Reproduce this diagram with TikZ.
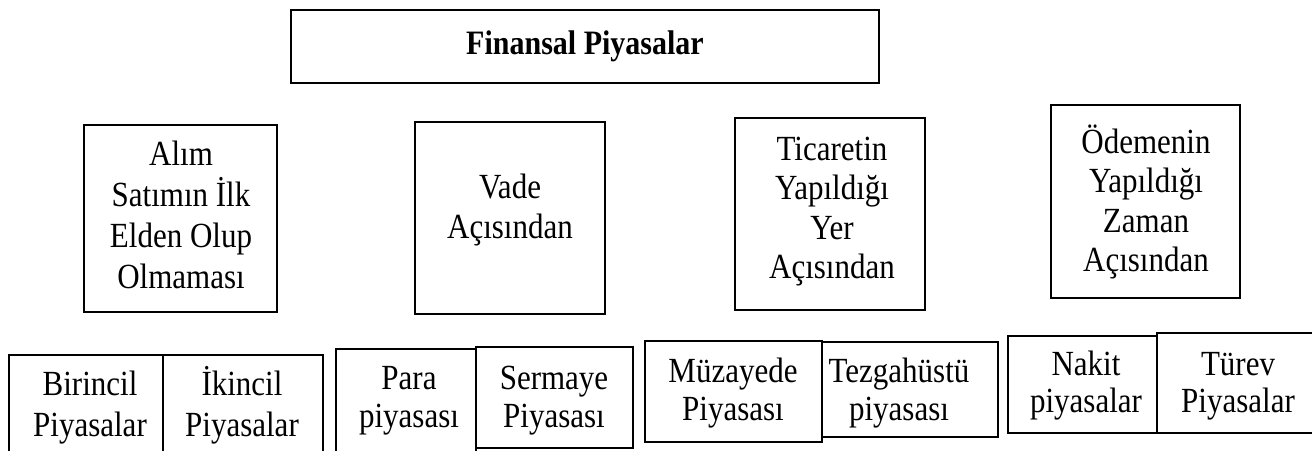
\documentclass[tikz,border=0pt]{standalone}
\usepackage{fontspec}
\setmainfont{Liberation Serif}
\newcommand{\fl}{\rule{0pt}{28pt}}
\tikzset{
  box/.style={draw=black, line width=2pt, inner sep=0pt, outer sep=0pt, anchor=north west},
  txt/.style={font=\fontsize{31}{#1}\selectfont, align=center, inner sep=0pt, anchor=north, yscale=1.14, transform shape},
  txt/.default=35
}
\begin{document}
\begin{tikzpicture}[x=1pt,y=1pt]
\clip (0,0) rectangle (1312,-450);
\fill[white] (0,0) rectangle (1312,-450);
% anchor points of the texts (first baseline minus 32pt)
\coordinate (topP) at (585,-54);
\coordinate (alimP) at (181,-133);
\coordinate (vadeP) at (510,-166);
\coordinate (ticaretP) at (832,-128);
\coordinate (odemeP) at (1146,-121);
\coordinate (birincilP) at (90,-363);
\coordinate (ikincilP) at (242,-363);
\coordinate (paraP) at (409,-357);
\coordinate (sermayeP) at (554,-357);
\coordinate (muzayedeP) at (733,-350);
\coordinate (tezgahP) at (899,-350);
\coordinate (nakitP) at (1086,-343);
\coordinate (turevP) at (1238,-343);
% title
\node[box, minimum width=588pt, minimum height=73pt] (top) at (291,-10) {};
\node[font=\bfseries\fontsize{30}{36}\selectfont, inner sep=0pt, anchor=base, yscale=1.14, transform shape] (topT) at (topP) {Finansal Piyasalar};
% middle row
\node[box, minimum width=193pt, minimum height=187pt] (alim) at (84,-125) {};
\node[txt=36] (alimT) at (alimP) {\fl Alım\\Satımın İlk\\Elden Olup\\Olmaması};
\node[box, minimum width=190pt, minimum height=192pt] (vade) at (415,-122) {};
\node[txt=35.1] (vadeT) at (vadeP) {\fl Vade\\Açısından};
\node[box, minimum width=190pt, minimum height=192pt] (ticaret) at (735,-118) {};
\node[txt=34.6] (ticaretT) at (ticaretP) {\fl Ticaretin\\Yapıldığı\\Yer\\Açısından};
\node[box, minimum width=189pt, minimum height=193pt] (odeme) at (1051,-105) {};
\node[txt=34.6] (odemeT) at (odemeP) {\fl Ödemenin\\Yapıldığı\\Zaman\\Açısından};
% bottom row
\node[box, minimum width=154pt, minimum height=115pt] (birincil) at (9,-355) {};
\node[box, minimum width=160pt, minimum height=115pt] (ikincil) at (163,-355) {};
\node[txt=36] (birincilT) at (birincilP) {\fl Birincil\\Piyasalar};
\node[txt=36] (ikincilT) at (ikincilP) {\fl İkincil\\Piyasalar};
\node[box, minimum width=140pt, minimum height=121pt] (para) at (336,-349) {};
\node[box, minimum width=157pt, minimum height=101pt] (sermaye) at (476,-347) {};
\node[txt=33.8] (paraT) at (paraP) {\fl Para\\piyasası};
\node[txt=33.8] (sermayeT) at (sermayeP) {\fl Sermaye\\Piyasası};
\node[box, minimum width=177pt, minimum height=101pt] (muzayede) at (645,-341) {};
\node[box, minimum width=176pt, minimum height=95pt] (tezgah) at (822,-342) {};
\node[txt=33.3] (muzayedeT) at (muzayedeP) {\fl Müzayede\\Piyasası};
\node[txt=33.3] (tezgahT) at (tezgahP) {\fl Tezgahüstü\\piyasası};
\node[box, minimum width=149pt, minimum height=97pt] (nakit) at (1008,-336) {};
\node[box, minimum width=173pt, minimum height=100pt] (turev) at (1157,-333) {};
\node[txt=32.9] (nakitT) at (nakitP) {\fl Nakit\\piyasalar};
\node[txt=32.9] (turevT) at (turevP) {\fl Türev\\Piyasalar};
\end{tikzpicture}
\end{document}
